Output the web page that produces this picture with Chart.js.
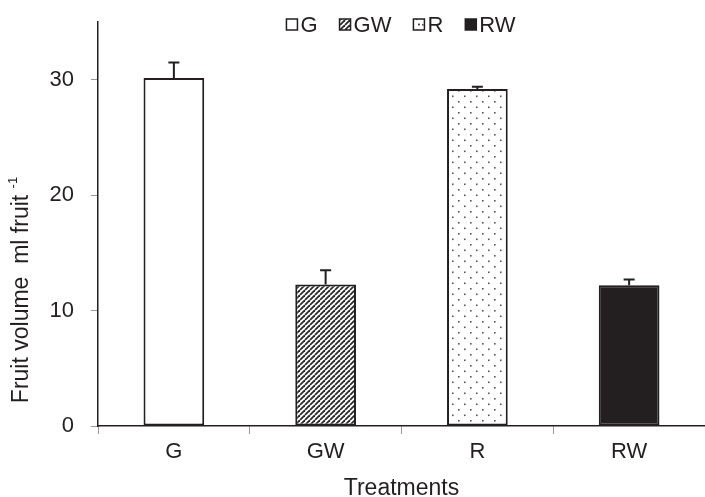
<!DOCTYPE html>
<html>
<head>
<meta charset="utf-8">
<script src="https://cdn.jsdelivr.net/npm/chart.js@4/dist/chart.umd.min.js"></script>
<style>
html,body{margin:0;padding:0;background:#fff;}
#wrap{width:705px;height:497px;position:relative;}
</style>
</head>
<body>
<div id="wrap"><canvas id="c" width="705" height="497"></canvas></div>
<script>
const categories = ['G', 'GW', 'R', 'RW'];
const values = [30.15, 12.25, 29.2, 12.2];
const errors = [1.35, 1.25, 0.2, 0.5];
const yTickValues = [0, 10, 20, 30];
const xTitle = 'Treatments';
const yTitle = 'Fruit volume  ml fruit';
const yTitleSup = '-1';

const DARK = '#231f20';
const FONT = '"Liberation Sans", Arial, sans-serif';

function hatchPattern() {
  const s = 5;
  const c = document.createElement('canvas');
  c.width = s; c.height = s;
  const g = c.getContext('2d');
  g.fillStyle = '#fff'; g.fillRect(0, 0, s, s);
  g.strokeStyle = '#2a2a2a'; g.lineWidth = 1.8;
  for (const o of [-s, 0, s]) {
    g.beginPath(); g.moveTo(o, s); g.lineTo(o + s, 0); g.stroke();
  }
  return g.createPattern(c, 'repeat');
}
function dotPattern() {
  const w = 12, h = 11;
  const c = document.createElement('canvas');
  c.width = w; c.height = h;
  const g = c.getContext('2d');
  g.fillStyle = '#fff'; g.fillRect(0, 0, w, h);
  g.fillStyle = '#555';
  g.fillRect(2, 2, 1.6, 1.6);
  g.fillRect(8, 7.5, 1.6, 1.6);
  return g.createPattern(c, 'repeat');
}
const ctx0 = document.getElementById('c').getContext('2d');
const hatch = hatchPattern();
const dots = dotPattern();
const fills = ['#ffffff', hatch, dots, DARK];

const errorBars = {
  id: 'errorBars',
  afterDatasetsDraw(chart) {
    const meta = chart.getDatasetMeta(0);
    const y = chart.scales.y;
    const ctx = chart.ctx;
    ctx.save();
    ctx.strokeStyle = DARK; ctx.lineWidth = 2;
    meta.data.forEach((el, i) => {
      const top = y.getPixelForValue(values[i] + errors[i]);
      ctx.beginPath();
      ctx.moveTo(el.x, el.y);
      ctx.lineTo(el.x, top);
      ctx.moveTo(el.x - 5.5, top);
      ctx.lineTo(el.x + 5.5, top);
      ctx.stroke();
    });
    ctx.restore();
  }
};

const customText = {
  id: 'customText',
  afterDraw(chart) {
    const ctx = chart.ctx;
    ctx.save();
    // y title with superscript
    ctx.translate(22, 290);
    ctx.rotate(-Math.PI / 2);
    ctx.font = '23px ' + FONT;
    ctx.fillStyle = DARK;
    ctx.textBaseline = 'middle';
    const w1 = ctx.measureText(yTitle + ' ').width;
    ctx.font = '13px ' + FONT;
    const w2 = ctx.measureText(yTitleSup).width;
    const total = w1 + w2;
    ctx.font = '23px ' + FONT;
    ctx.textAlign = 'left';
    ctx.fillText(yTitle + ' ', -total / 2, 0);
    ctx.font = '13px ' + FONT;
    ctx.fillText(yTitleSup, -total / 2 + w1, -9);
    ctx.restore();

    // legend
    ctx.save();
    ctx.font = '22px ' + FONT;
    ctx.textBaseline = 'alphabetic';
    ctx.textAlign = 'left';
    const box = 11, gapBT = 3, gapItem = 22;
    let totalW = 0;
    const widths = categories.map(c => ctx.measureText(c).width);
    widths.forEach((tw, i) => { totalW += box + gapBT + tw + (i < categories.length - 1 ? gapItem : 0); });
    let x = 401 - totalW / 2;
    const by = 19, baseY = 32;
    categories.forEach((c, i) => {
      ctx.fillStyle = fills[i];
      ctx.fillRect(x, by, box, box);
      ctx.strokeStyle = DARK; ctx.lineWidth = 1.5;
      ctx.strokeRect(x, by, box, box);
      if (i === 2) { ctx.fillStyle = '#333'; ctx.fillRect(x + 4.6, by + 4.6, 1.8, 1.8); }
      ctx.fillStyle = DARK;
      ctx.fillText(c, x + box + gapBT, baseY);
      x += box + gapBT + widths[i] + gapItem;
    });
    ctx.restore();
  }
};

new Chart(ctx0, {
  type: 'bar',
  data: {
    labels: categories,
    datasets: [{
      data: values,
      backgroundColor: fills,
      borderColor: DARK,
      borderWidth: 2,
      borderSkipped: false,
      categoryPercentage: 1,
      barPercentage: 0.4
    }]
  },
  options: {
    responsive: false,
    animation: false,
    events: [],
    layout: { padding: { top: 22, left: 0, right: 0, bottom: 0 } },
    plugins: { legend: { display: false }, tooltip: { enabled: false }, title: { display: false } },
    scales: {
      x: {
        grid: { offset: true, drawOnChartArea: false, drawTicks: true, tickLength: 8, tickColor: '#999', tickWidth: 1 },
        border: { display: true, color: DARK, width: 1.5 },
        ticks: { font: { size: 22, family: FONT }, color: DARK, padding: 5 },
        title: { display: true, text: xTitle, font: { size: 23, family: FONT, lineHeight: 0.75 }, color: DARK, padding: { top: 0, bottom: 0 } },
        afterFit(s) { s.height = 71; s.paddingLeft = 0; s.paddingRight = 0; }
      },
      y: {
        min: 0, max: 35,
        grid: { drawOnChartArea: false, drawTicks: true, tickLength: 7, tickColor: '#999', tickWidth: 1 },
        border: { display: true, color: DARK, width: 1.5 },
        ticks: { stepSize: 10, font: { size: 22, family: FONT }, color: DARK, padding: 17 },
        afterBuildTicks(s) { s.ticks = yTickValues.map(v => ({ value: v })); },
        afterFit(s) { s.width = 98; s.paddingTop = 0; s.paddingBottom = 0; }
      }
    }
  },
  plugins: [errorBars, customText]
});
</script>
</body>
</html>
